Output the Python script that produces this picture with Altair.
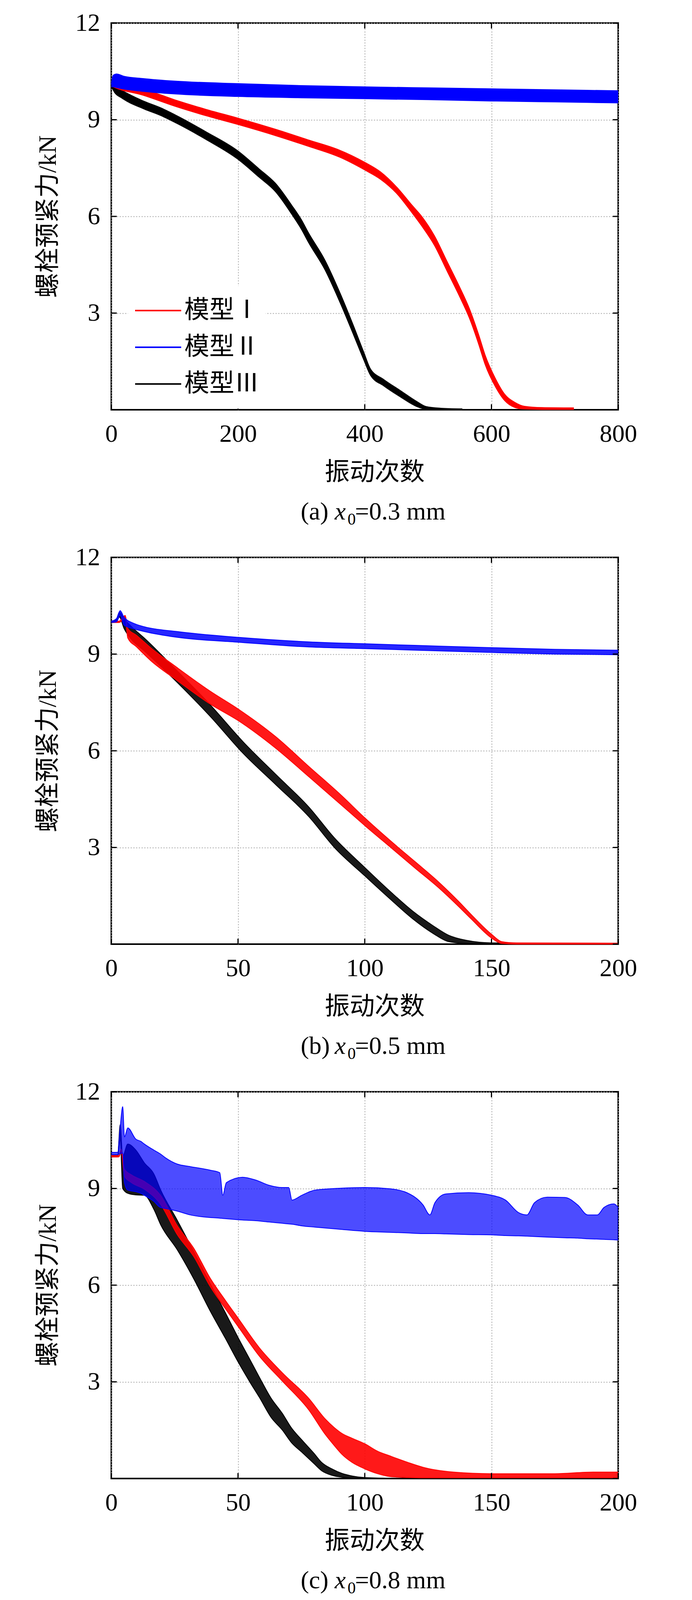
import altair as alt
import pandas as pd

FONT = "Liberation Serif, Noto Sans CJK SC"
NAMES = ["模型Ⅰ", "模型Ⅱ", "模型Ⅲ"]
COLORS = ["#ff0000", "#0000ff", "#000000"]
Y_TITLE = "螺栓预紧力/kN"
X_TITLE = "振动次数"
Y_TICKS = [3, 6, 9, 12]
Y_RULE_TICKS = [0, 3, 6, 9, 12]
X_TICKS_A = [0, 200, 400, 600, 800]
X_TICKS_BC = [0, 50, 100, 150, 200]

W, H = 1298, 990

# ---------------- panel (a) x0 = 0.3 mm ----------------
a_red_x = [0, 3, 50, 100, 150, 200, 260, 310, 360, 400, 425, 450, 475, 490, 510, 530, 550, 565, 580, 590, 606, 621, 637, 652, 680, 730]
a_red_up = [10.1, 10.08, 9.95, 9.62, 9.32, 9.05, 8.7, 8.38, 8.06, 7.68, 7.38, 6.92, 6.34, 6.0, 5.4, 4.6, 3.8, 3.15, 2.32, 1.7, 0.98, 0.48, 0.23, 0.11, 0.07, 0.06]
a_red_lo = [10.05, 10.02, 9.76, 9.42, 9.12, 8.85, 8.5, 8.18, 7.84, 7.44, 7.15, 6.72, 6.1, 5.7, 5.1, 4.3, 3.5, 2.85, 2.02, 1.4, 0.72, 0.28, 0.07, 0.02, 0.01, 0.01]

a_blue_x = [0, 3, 8, 20, 50, 100, 200, 300, 400, 500, 600, 700, 800]
a_blue_up = [10.1, 10.38, 10.42, 10.35, 10.28, 10.2, 10.12, 10.06, 10.02, 9.99, 9.96, 9.93, 9.9]
a_blue_lo = [10.02, 10.02, 10.0, 9.95, 9.88, 9.8, 9.72, 9.68, 9.65, 9.62, 9.58, 9.55, 9.52]

a_black_x = [0, 5, 16, 52, 78, 104, 150, 200, 233, 259, 285, 300, 311, 337, 362, 383, 399, 409, 430, 456, 482, 497, 520, 554]
a_black_up = [10.12, 10.05, 9.92, 9.57, 9.37, 9.12, 8.62, 8.03, 7.48, 7.03, 6.34, 5.9, 5.5, 4.65, 3.58, 2.57, 1.76, 1.27, 0.94, 0.6, 0.26, 0.1, 0.05, 0.03]
a_black_lo = [10.04, 9.85, 9.68, 9.33, 9.13, 8.88, 8.38, 7.77, 7.22, 6.77, 6.06, 5.6, 5.2, 4.35, 3.28, 2.29, 1.52, 1.07, 0.74, 0.4, 0.1, 0.01, 0.0, 0.0]

# ---------------- panel (b) x0 = 0.5 mm ----------------
b_red_x = [0, 3, 5.5, 6.5, 10, 15.5, 26, 39, 50, 65, 78, 91, 100, 111, 120, 129, 137, 142, 150, 154, 160, 200]
b_red_up = [10.02, 10.02, 10.2, 9.8, 9.58, 9.2, 8.58, 7.85, 7.3, 6.43, 5.51, 4.6, 3.92, 3.15, 2.55, 1.94, 1.33, 0.92, 0.31, 0.08, 0.04, 0.03]
b_red_lo = [9.98, 9.98, 10.1, 9.5, 9.22, 8.8, 8.18, 7.45, 6.94, 6.07, 5.19, 4.3, 3.68, 2.95, 2.35, 1.76, 1.17, 0.78, 0.19, 0.02, 0.0, 0.0]

b_blue_x = [0, 2, 3.5, 5, 9, 13, 26, 50, 78, 100, 129, 150, 175, 200]
b_blue_up = [10.02, 10.1, 10.35, 10.15, 9.95, 9.85, 9.7, 9.52, 9.38, 9.32, 9.25, 9.2, 9.15, 9.12]
b_blue_lo = [9.98, 10.0, 10.2, 9.9, 9.78, 9.7, 9.52, 9.37, 9.22, 9.17, 9.1, 9.05, 9.0, 8.98]

b_black_x = [0, 2, 3.2, 5, 8, 13, 26, 39, 52, 65, 78, 88, 100, 110, 119, 127, 133, 140, 150, 200]
b_black_up = [10.02, 10.08, 10.3, 10.1, 9.85, 9.5, 8.48, 7.43, 6.28, 5.26, 4.25, 3.3, 2.38, 1.64, 1.02, 0.57, 0.28, 0.12, 0.04, 0.02]
b_black_lo = [9.98, 10.0, 10.15, 9.8, 9.45, 9.1, 8.12, 7.07, 5.92, 4.94, 3.95, 3.0, 2.12, 1.4, 0.78, 0.33, 0.08, 0.02, 0.0, 0.0]

# ---------------- panel (c) x0 = 0.8 mm ----------------
c_red_x = [0, 3, 3.9, 5.2, 8, 13, 19.5, 26, 32.5, 39, 45, 50, 58.4, 67.5, 78, 84.4, 88, 91, 95, 100, 105, 110, 117, 123, 135, 150, 175, 190, 200]
c_red_up = [10.02, 10.02, 10.22, 9.6, 9.42, 9.22, 8.78, 7.85, 7.15, 6.22, 5.53, 4.98, 4.06, 3.28, 2.48, 1.85, 1.58, 1.4, 1.25, 1.08, 0.85, 0.7, 0.5, 0.35, 0.2, 0.15, 0.15, 0.2, 0.2]
c_red_lo = [9.98, 9.98, 10.15, 9.38, 9.18, 8.98, 8.5, 7.57, 6.89, 5.96, 5.27, 4.72, 3.8, 3.02, 2.12, 1.37, 1.02, 0.75, 0.5, 0.3, 0.15, 0.06, 0.03, 0.02, 0.02, 0.02, 0.02, 0.02, 0.02]

c_blue_x = [0, 2.5, 3.5, 4.5, 5.2, 6.5, 9.7, 11.7, 13, 16.8, 19.4, 21.4, 25.9, 31.1, 38.9, 42.8, 44, 45.4, 51.8, 57, 62.2, 67.4, 70, 71.3, 75.2, 80.4, 90.7, 100, 110, 116.6, 123, 125.7, 127.7, 132, 141, 150, 155.5, 160.7, 164, 167, 172, 179, 184, 188, 191.8, 194.4, 198.3, 200]
c_blue_up = [10.12, 10.12, 10.9, 11.54, 10.6, 10.88, 10.53, 10.46, 10.38, 10.19, 10.07, 9.95, 9.76, 9.68, 9.57, 9.49, 8.79, 9.18, 9.35, 9.26, 9.1, 9.03, 9.03, 8.64, 8.79, 8.95, 9.01, 9.03, 8.99, 8.87, 8.49, 8.18, 8.56, 8.83, 8.87, 8.79, 8.64, 8.25, 8.18, 8.56, 8.73, 8.72, 8.49, 8.18, 8.18, 8.41, 8.52, 8.41]
c_blue_lo = [10.05, 10.05, 10.08, 10.1, 9.18, 8.95, 8.9, 8.85, 8.79, 8.6, 8.41, 8.38, 8.3, 8.18, 8.1, 8.08, 8.07, 8.06, 8.02, 8.0, 7.96, 7.92, 7.9, 7.89, 7.84, 7.8, 7.73, 7.67, 7.64, 7.62, 7.6, 7.6, 7.6, 7.59, 7.57, 7.56, 7.54, 7.53, 7.52, 7.51, 7.49, 7.47, 7.46, 7.44, 7.43, 7.42, 7.41, 7.4]

c_black_x = [0, 2.5, 3.5, 4.5, 6.5, 9.7, 13, 16.8, 19.5, 26, 32.5, 39, 45, 50, 55, 58.4, 63, 67.5, 71, 75.4, 80, 83, 87, 91, 95, 100, 110]
c_black_up = [10.02, 10.02, 10.98, 10.0, 10.38, 10.19, 9.8, 9.45, 8.95, 8.02, 7.05, 6.05, 5.15, 4.38, 3.65, 3.15, 2.5, 2.02, 1.58, 1.18, 0.78, 0.5, 0.3, 0.16, 0.08, 0.03, 0.01]
c_black_lo = [9.98, 9.98, 10.5, 9.0, 8.85, 8.8, 8.79, 8.35, 7.87, 7.1, 6.2, 5.2, 4.35, 3.62, 2.95, 2.52, 1.9, 1.5, 1.12, 0.8, 0.46, 0.24, 0.1, 0.04, 0.02, 0.0, 0.0]

CAPTIONS = [
    ["(a)", "x", "0", "=0.3 mm"],
    ["(b)", "x", "0", "=0.5 mm"],
    ["(c)", "x", "0", "=0.8 mm"],
]


def panel(xmax, xticks, series, legend_xy, caption, opac):
    xs = alt.Scale(domain=[0, xmax], nice=False, zero=False)
    ys = alt.Scale(domain=[0, 12], nice=False)
    cs = alt.Scale(domain=NAMES, range=COLORS)
    x_axis = alt.Axis(values=xticks, title=X_TITLE, grid=True, format="d",
                      titleX=674, titleY=160, titleBaseline="middle",
                      labelPadding=30, labelFlush=False,
                      labelFont=FONT, titleFont=FONT)
    y_axis = alt.Axis(values=Y_TICKS, title=Y_TITLE, grid=True, format="d",
                      titleX=-162, titleY=H / 2, titleBaseline="middle",
                      labelPadding=29, labelFlush=False,
                      labelFont=FONT, titleFont=FONT)
    leg = alt.Legend(orient="none", legendX=legend_xy[0], legendY=legend_xy[1],
                     title=None, symbolType="stroke", symbolSize=13924,
                     symbolStrokeWidth=4, clipHeight=94, labelFont=FONT,
                     labelFontSize=64, labelOffset=6, labelLimit=500,
                     fillColor="white", padding=16, rowPadding=0,
                     labelColor="black")

    def X(field):
        return alt.X(field, scale=xs, axis=x_axis)

    def Y(field):
        return alt.Y(field, scale=ys, axis=y_axis)

    layers = []
    # draw order: black (III), red (I), blue (II)
    for idx in [2, 0, 1]:
        xv, up, lo = series[idx]
        df = pd.DataFrame({"x": xv, "up": up, "lo": lo, "s": NAMES[idx]})
        area = alt.Chart(df).mark_area(color=COLORS[idx], opacity=opac[idx],
                                       interpolate="monotone").encode(
            x=X("x:Q"), y=Y("up:Q"), y2="lo:Q")
        edges = alt.Chart(df).transform_fold(["up", "lo"], as_=["edge", "v"]).mark_line(
            strokeWidth=2, interpolate="monotone").encode(
            x=X("x:Q"),
            y=Y("v:Q"),
            color=alt.Color("s:N", scale=cs, legend=leg),
            detail="edge:N")
        layers += [area, edges]

    # inward tick marks on all four sides
    xt = pd.DataFrame({"t": xticks})
    yt = pd.DataFrame({"t": Y_RULE_TICKS})
    tk = dict(color="black", strokeWidth=3)
    layers.append(alt.Chart(xt).mark_rule(**tk).encode(
        x=X("t:Q"), y=alt.value(H - 14), y2=alt.value(H)))
    layers.append(alt.Chart(xt).mark_rule(**tk).encode(
        x=X("t:Q"), y=alt.value(0), y2=alt.value(14)))
    layers.append(alt.Chart(yt).mark_rule(**tk).encode(
        y=Y("t:Q"), x=alt.value(0), x2=alt.value(14)))
    layers.append(alt.Chart(yt).mark_rule(**tk).encode(
        y=Y("t:Q"), x=alt.value(W - 14), x2=alt.value(W)))

    # caption below the panel: "(a) x0=0.3 mm" with italic x and subscript 0
    cap_x = [485, 572, 605, 624]
    cap_y = [H + 262, H + 262, H + 281, H + 262]
    cap_size = [64, 64, 42, 64]
    cap_style = ["normal", "italic", "normal", "normal"]
    for part, px, py, fs, st in zip(caption, cap_x, cap_y, cap_size, cap_style):
        layers.append(alt.Chart(pd.DataFrame({"t": [part]})).mark_text(
            align="left", baseline="middle", fontSize=fs, font=FONT,
            fontStyle=st, color="black").encode(
            text="t:N", x=alt.value(px), y=alt.value(py)))

    return alt.layer(*layers).properties(width=W, height=H)


OPA = [0.9, 0.85, 0.9]
OPC = [0.9, 0.7, 0.9]
pa = panel(800, X_TICKS_A,
           [(a_red_x, a_red_up, a_red_lo), (a_blue_x, a_blue_up, a_blue_lo), (a_black_x, a_black_up, a_black_lo)],
           (43, 673), CAPTIONS[0], [1, 1, 1])
pb = panel(200, X_TICKS_BC,
           [(b_red_x, b_red_up, b_red_lo), (b_blue_x, b_blue_up, b_blue_lo), (b_black_x, b_black_up, b_black_lo)],
           (43, 679), CAPTIONS[1], OPA)
pc = panel(200, X_TICKS_BC,
           [(c_red_x, c_red_up, c_red_lo), (c_blue_x, c_blue_up, c_blue_lo), (c_black_x, c_black_up, c_black_lo)],
           (857, 647), CAPTIONS[2], OPC)

chart = alt.vconcat(pa, pb, pc, spacing=378, bounds="flush").properties(
    padding={"left": 81, "top": 17, "right": 5, "bottom": 5},
    background="white",
).configure(font=FONT).configure_view(
    stroke="black", strokeWidth=4
).configure_axis(
    domain=False, ticks=False, tickSize=0,
    labelFont=FONT, labelFontSize=64, labelColor="black",
    titleFont=FONT, titleFontSize=64, titleFontWeight="normal", titleColor="black",
    gridColor="#a8a8a8", gridDash=[3, 4], gridWidth=2,
)

chart.save("out.html", embed_options={"renderer": "svg", "actions": False})
